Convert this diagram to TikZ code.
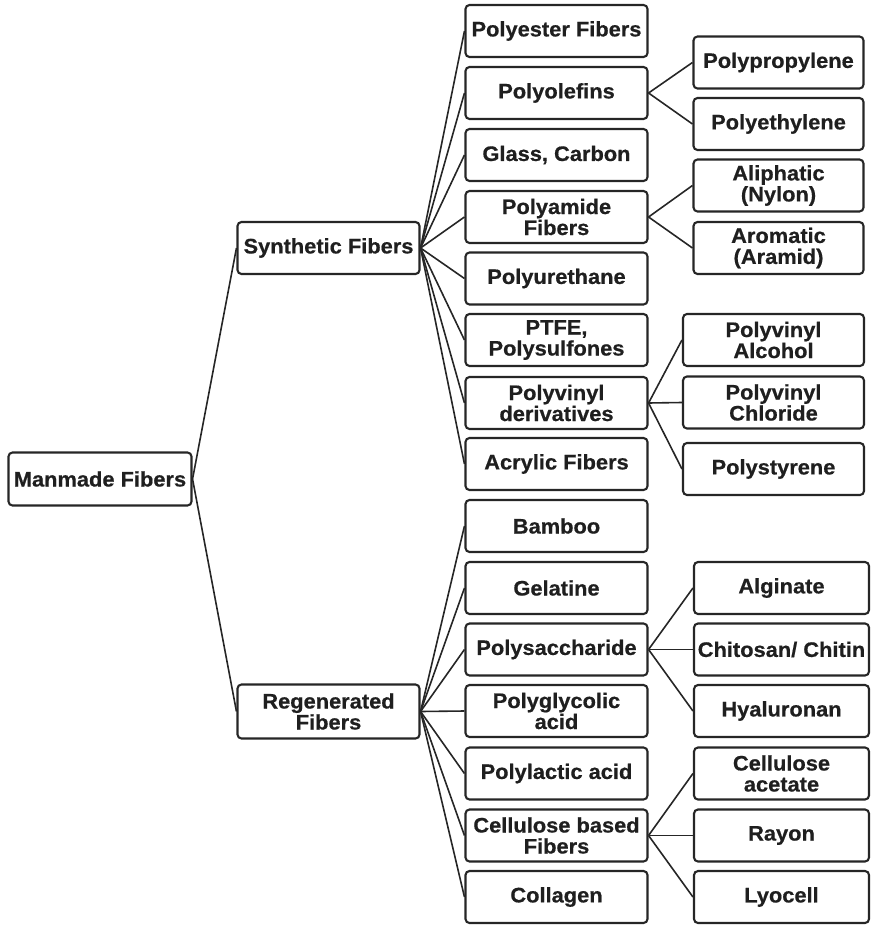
\documentclass[tikz,border=0pt]{standalone}
\usepackage{fontspec}
\newfontfamily\boxfont{Liberation Sans}[FakeStretch=1.04, FakeBold=0.6]
\begin{document}
\begin{tikzpicture}[x=1pt,y=-1pt,
  box/.style={draw=black!85, line width=2.1pt, rounded corners=4pt, fill=white,
    minimum height=52pt, inner sep=0pt, align=center,
    font=\boxfont\bfseries\fontsize{21}{21}\selectfont, text=black!88},
  link/.style={draw=black!85, line width=1.6pt}]
\useasboundingbox (0,0) rectangle (872,925);
% level 0 and 1
\node[box, minimum width=183pt, minimum height=53pt] (root) at (100,479) {Manmade Fibers};
\node[box, minimum width=182pt] (syn) at (328.5,248) {Synthetic Fibers};
\node[box, minimum width=182pt, minimum height=54pt] (reg) at (328.5,711.5) {Regenerated\\Fibers};
% level 2
\begin{scope}[every node/.style={box, minimum width=182pt}]
\node (pes) at (556.5,31) {Polyester Fibers};
\node (pol) at (556.5,93) {Polyolefins};
\node (gla) at (556.5,155) {Glass, Carbon};
\node (pam) at (556.5,217) {Polyamide\\Fibers};
\node (pur) at (556.5,278.5) {Polyurethane};
\node (ptf) at (556.5,340) {PTFE,\\Polysulfones};
\node (pvd) at (556.5,403) {Polyvinyl\\derivatives};
\node (acr) at (556.5,464) {Acrylic Fibers};
\node (bam) at (556.5,526) {Bamboo};
\node (gel) at (556.5,588) {Gelatine};
\node (psa) at (556.5,649.5) {Polysaccharide};
\node (pga) at (556.5,711) {Polyglycolic\\acid};
\node (pla) at (556.5,773.5) {Polylactic acid};
\node (cel) at (556.5,835.5) {Cellulose based\\Fibers};
\node (col) at (556.5,897) {Collagen};
\end{scope}
% level 3
\begin{scope}[every node/.style={box, minimum width=170pt}]
\node (ppr) at (778.5,62.5) {Polypropylene};
\node (pet) at (778.5,124) {Polyethylene};
\node (ali) at (778.5,185.5) {Aliphatic\\(Nylon)};
\node (aro) at (778.5,248) {Aromatic\\(Aramid)};
\end{scope}
\begin{scope}[every node/.style={box, minimum width=181pt}]
\node (pva) at (773.5,340) {Polyvinyl\\Alcohol};
\node (pvc) at (773.5,402.5) {Polyvinyl\\Chloride};
\node (pst) at (773.5,469) {Polystyrene};
\end{scope}
\begin{scope}[every node/.style={box, minimum width=175pt}]
\node (alg) at (781.5,588) {Alginate};
\node (chi) at (781.5,649.5) {Chitosan/ Chitin};
\node (hya) at (781.5,711) {Hyaluronan};
\node (cac) at (781.5,773.5) {Cellulose\\acetate};
\node (ray) at (781.5,835.5) {Rayon};
\node (lyo) at (781.5,897) {Lyocell};
\end{scope}
% connectors
\draw[link] (root.east) -- (syn.west);
\draw[link] (root.east) -- (reg.west);
\foreach \c in {pes,pol,gla,pam,pur,ptf,pvd,acr}
  \draw[link] (syn.east) -- (\c.west);
\foreach \c in {bam,gel,psa,pga,pla,cel,col}
  \draw[link] (reg.east) -- (\c.west);
\draw[link] (pol.east) -- (ppr.west);
\draw[link] (pol.east) -- (pet.west);
\draw[link] (pam.east) -- (ali.west);
\draw[link] (pam.east) -- (aro.west);
\draw[link] (pvd.east) -- (pva.west);
\draw[link] (pvd.east) -- (pvc.west);
\draw[link] (pvd.east) -- (pst.west);
\draw[link] (psa.east) -- (alg.west);
\draw[link] (psa.east) -- (chi.west);
\draw[link] (psa.east) -- (hya.west);
\draw[link] (cel.east) -- (cac.west);
\draw[link] (cel.east) -- (ray.west);
\draw[link] (cel.east) -- (lyo.west);
\end{tikzpicture}
\end{document}
